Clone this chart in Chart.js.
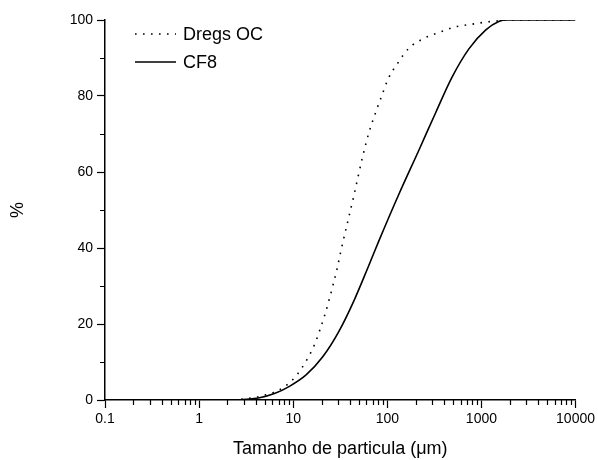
<!DOCTYPE html>
<html>
<head>
<meta charset="utf-8">
<script src="https://cdn.jsdelivr.net/npm/chart.js@4/dist/chart.umd.min.js"></script>
<style>
  body { margin: 0; background: #fff; }
  canvas { display: block; }
</style>
</head>
<body>
<canvas id="chart" width="598" height="460"></canvas>
<script>
// tamanho de particula (um) and % passing
const dregsX = [2.3, 3, 4, 5, 6.2, 7.5, 9.1, 10.7, 12.4, 13.9, 16.8, 19.3, 21.9, 24.4, 26.9, 29.6, 32.1, 44.5, 54, 64, 76, 88, 102, 127, 170, 251, 362, 532, 798, 1148, 1410, 1725, 10000];
const dregsY = [0, 0.3, 0.7, 1.3, 2.0, 3.0, 4.5, 6.3, 8.5, 10.5, 14.5, 18.6, 22.8, 26.9, 30.9, 35.1, 39.2, 54.2, 63.5, 70.5, 76.0, 80.3, 84.5, 88.4, 92.6, 95.3, 96.8, 98.2, 98.9, 99.5, 99.7, 100, 100];

const cf8X = [2.69, 4.39, 6.32, 9.12, 13.7, 20.5, 30.8, 44.5, 62.6, 80.5, 133, 217, 329, 486, 736, 1114, 1529, 1858, 10000];
const cf8Y = [0, 0.6, 1.7, 3.6, 6.6, 11.3, 18.2, 26.3, 35.0, 41.6, 54.2, 65.8, 75.8, 84.9, 92.4, 97.4, 99.6, 100, 100];

const xTicks = [0.1, 1, 10, 100, 1000, 10000];
const xTickLabels = ['0.1', '1', '10', '100', '1000', '10000'];
const yTicks = [0, 20, 40, 60, 80, 100];
const yMinor = [10, 30, 50, 70, 90];

const FONT = "'Liberation Sans', Arial, sans-serif";

let xMinor = [];
for (let d = 0.1; d < 10000; d *= 10) {
	for (let m = 2; m <= 9; m++) xMinor.push(d * m);
}

const pairs = (xs, ys) => xs.map((v, i) => ({x: v, y: ys[i]}));

// minor ticks + legend inside the plot
const extras = {
	id: 'extras',
	afterDraw(chart) {
		const ctx = chart.ctx;
		const sx = chart.scales.x, sy = chart.scales.y;
		ctx.save();
		ctx.strokeStyle = '#000';
		ctx.lineWidth = 1.2;
		ctx.beginPath();
		xMinor.forEach(v => {
			const px = Math.round(sx.getPixelForValue(v)) + 0.5;
			ctx.moveTo(px, sy.bottom);
			ctx.lineTo(px, sy.bottom + 5);
		});
		yMinor.forEach(v => {
			const py = Math.round(sy.getPixelForValue(v)) + 0.5;
			ctx.moveTo(sx.left, py);
			ctx.lineTo(sx.left - 5, py);
		});
		ctx.stroke();

		ctx.font = '18px ' + FONT;
		ctx.fillStyle = '#000';
		ctx.textBaseline = 'middle';
		chart.data.datasets.forEach((ds, i) => {
			const yy = 34 + i * 28;
			ctx.beginPath();
			ctx.lineWidth = ds.borderWidth;
			ctx.setLineDash(ds.borderDash || []);
			ctx.moveTo(135, yy);
			ctx.lineTo(176, yy);
			ctx.stroke();
			ctx.setLineDash([]);
			ctx.fillText(ds.label, 183, yy + 1);
		});
		ctx.restore();
	}
};

new Chart(document.getElementById('chart'), {
	type: 'scatter',
	data: {
		datasets: [
			{
				label: 'Dregs OC',
				data: pairs(dregsX, dregsY),
				showLine: true,
				borderColor: '#000',
				borderWidth: 1.6,
				borderDash: [1.6, 6.4],
				pointRadius: 0,
				cubicInterpolationMode: 'monotone'
			},
			{
				label: 'CF8',
				data: pairs(cf8X, cf8Y),
				showLine: true,
				borderColor: '#000',
				borderWidth: 1.6,
				pointRadius: 0,
				cubicInterpolationMode: 'monotone'
			}
		]
	},
	options: {
		responsive: false,
		animation: false,
		layout: {
			padding: {left: 0, right: 21, top: 20, bottom: 0}
		},
		plugins: {
			legend: {display: false},
			tooltip: {enabled: false}
		},
		scales: {
			x: {
				type: 'logarithmic',
				position: 'bottom',
				min: 0.1,
				max: 10000,
				afterBuildTicks: s => { s.ticks = xTicks.map(v => ({value: v})); },
				afterFit: s => { s.height = 60; },
				border: {display: true, color: '#000', width: 1.5},
				grid: {drawOnChartArea: false, tickLength: 8, tickColor: '#000', tickWidth: 1.2},
				ticks: {
					autoSkip: false,
					maxRotation: 0,
					padding: 3,
					color: '#000',
					font: {family: FONT, size: 14},
					callback: (v, i) => xTickLabels[i]
				},
				title: {
					display: true,
					text: 'Tamanho de particula (\u03bcm)',
					color: '#000',
					font: {family: FONT, size: 18},
					padding: {top: 0, bottom: 0}
				}
			},
			y: {
				min: 0,
				max: 100,
				afterBuildTicks: s => { s.ticks = yTicks.map(v => ({value: v})); },
				afterFit: s => { s.width = 105; },
				border: {display: true, color: '#000', width: 1.5},
				grid: {drawOnChartArea: false, tickLength: 8, tickColor: '#000', tickWidth: 1.2},
				ticks: {
					padding: 4,
					color: '#000',
					font: {family: FONT, size: 14}
				},
				title: {
					display: true,
					text: '%',
					color: '#000',
					font: {family: FONT, size: 18},
					padding: {top: 7, bottom: 0}
				}
			}
		}
	},
	plugins: [extras]
});
</script>
</body>
</html>
